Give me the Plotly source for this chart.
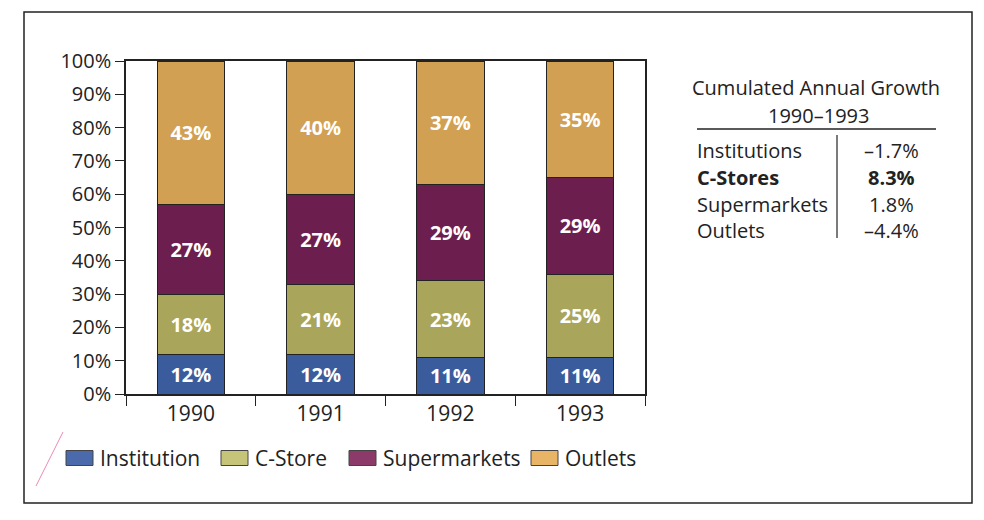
import plotly.graph_objects as go

# ---- data ----
years = ["1990", "1991", "1992", "1993"]
series_names = ["Institution", "C-Store", "Supermarkets", "Outlets"]
institution = [12, 12, 11, 11]
cstore = [18, 21, 23, 25]
supermarkets = [27, 27, 29, 29]
outlets = [43, 40, 37, 35]
y_ticks = [0, 10, 20, 30, 40, 50, 60, 70, 80, 90, 100]

growth_title = ["Cumulated Annual Growth", "1990–1993"]
growth_labels = ["Institutions", "C-Stores", "Supermarkets", "Outlets"]
growth_values = ["–1.7%", "8.3%", "1.8%", "–4.4%"]
growth_highlight = "C-Stores"

# ---- styling ----
W, H = 984, 520
L, R, T, B = 126, 339, 61, 126
PW, PH = W - L - R, H - T - B
FONT = "Open Sans"
INK = "#222222"
bar_colors = ["#3b5c9c", "#a9a65c", "#6c1e4f", "#d1a052"]
swatch_colors = ["#4a6aab", "#c6c479", "#8c3a6a", "#e8b566"]


def px(x):
    """canvas pixel x -> paper x"""
    return (x - L) / PW


def py(y):
    """canvas pixel y (from top) -> paper y"""
    return (H - B - y) / PH


fig = go.Figure()
for name, vals, col in zip(series_names, [institution, cstore, supermarkets, outlets], bar_colors):
    fig.add_trace(go.Bar(
        x=years, y=vals, name=name,
        marker=dict(color=col, line=dict(color=INK, width=1)),
        text=[f"<b>{v}%</b>" for v in vals],
        texttemplate="%{text}",
        textposition="inside", insidetextanchor="middle",
        textfont=dict(color="white", size=20, family=FONT),
        constraintext="none",
        showlegend=False, hoverinfo="skip",
    ))

shapes = []
annotations = []

# outer frame
shapes.append(dict(type="rect", xref="paper", yref="paper",
                   x0=px(24), x1=px(972), y0=py(12), y1=py(503),
                   line=dict(color=INK, width=1.5), fillcolor="rgba(0,0,0,0)", layer="below"))

# stray pink pen stroke at lower left
shapes.append(dict(type="line", xref="paper", yref="paper",
                   x0=px(63), y0=py(432), x1=px(36), y1=py(486),
                   line=dict(color="rgba(220,90,150,0.7)", width=1)))

# legend: swatches + labels
legend_x = [66, 221, 349, 531]
legend_y = 458
for i, name in enumerate(series_names):
    x0 = legend_x[i]
    shapes.append(dict(type="rect", xref="paper", yref="paper",
                       x0=px(x0), x1=px(x0 + 27), y0=py(legend_y - 7.5), y1=py(legend_y + 7.5),
                       fillcolor=swatch_colors[i], line=dict(color="#444444", width=1)))
    annotations.append(dict(xref="paper", yref="paper", x=px(x0 + 32), y=py(legend_y),
                            text=name, showarrow=False, xanchor="left", yanchor="middle",
                            font=dict(family=FONT, size=21, color=INK)))

# growth table
annotations.append(dict(xref="paper", yref="paper", x=px(816), y=py(88), text=growth_title[0],
                        showarrow=False, xanchor="center", yanchor="middle",
                        font=dict(family=FONT, size=20, color=INK)))
annotations.append(dict(xref="paper", yref="paper", x=px(818), y=py(115), text=growth_title[1],
                        showarrow=False, xanchor="center", yanchor="middle",
                        font=dict(family=FONT, size=20, color=INK)))
shapes.append(dict(type="line", xref="paper", yref="paper",
                   x0=px(697), x1=px(936), y0=py(129), y1=py(129),
                   line=dict(color=INK, width=1.5)))
shapes.append(dict(type="line", xref="paper", yref="paper",
                   x0=px(837), x1=px(837), y0=py(135), y1=py(238),
                   line=dict(color=INK, width=1.2)))
row_y = [150, 177, 204, 230]
for lab, val, yy in zip(growth_labels, growth_values, row_y):
    bold = lab == growth_highlight
    lab_txt = f"<b>{lab}</b>" if bold else lab
    val_txt = f"<b>{val}</b>" if bold else val
    annotations.append(dict(xref="paper", yref="paper", x=px(695), y=py(yy), text=lab_txt,
                            showarrow=False, xanchor="left", yanchor="middle",
                            font=dict(family=FONT, size=20, color=INK)))
    annotations.append(dict(xref="paper", yref="paper", x=px(891), y=py(yy), text=val_txt,
                            showarrow=False, xanchor="center", yanchor="middle",
                            font=dict(family=FONT, size=20, color=INK)))

fig.update_layout(
    width=W, height=H,
    margin=dict(l=L, r=R, t=T, b=B, pad=0),
    paper_bgcolor="white", plot_bgcolor="white",
    barmode="stack", bargap=0.48,
    font=dict(family=FONT, color=INK),
    shapes=shapes, annotations=annotations,
    xaxis=dict(
        showline=True, linecolor=INK, linewidth=1.5, mirror=True,
        ticks="outside", tickson="boundaries", ticklen=10, tickcolor=INK, tickwidth=1.2,
        tickfont=dict(family=FONT, size=21, color=INK),
        showgrid=False, fixedrange=True,
    ),
    yaxis=dict(
        range=[0, 100], tickvals=y_ticks, ticktext=[f"{v}%" for v in y_ticks],
        showline=True, linecolor=INK, linewidth=1.5, mirror=True,
        ticks="outside", ticklen=9, tickcolor=INK, tickwidth=1.2,
        tickfont=dict(family=FONT, size=20, color=INK),
        showgrid=False, zeroline=False, fixedrange=True,
    ),
)

fig.write_html("out.html", config={"displayModeBar": False})
